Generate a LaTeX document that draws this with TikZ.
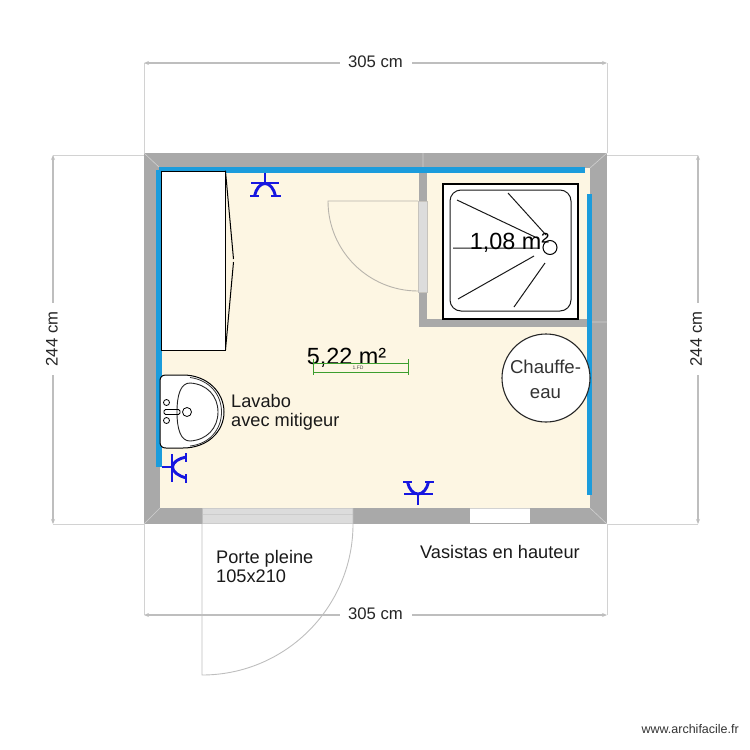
\documentclass[tikz,border=0pt]{standalone}
\usepackage{fontspec}
\setmainfont{Liberation Sans}
\usetikzlibrary{arrows.meta}
\definecolor{wallc}{HTML}{A9A9A9}
\definecolor{floorc}{HTML}{FDF6E3}
\definecolor{pipec}{HTML}{1B9CDC}
\definecolor{tapc}{HTML}{1616E0}
\definecolor{greenc}{HTML}{3C9E2E}
\definecolor{dimc}{HTML}{BEBEBE}
\definecolor{extc}{HTML}{D2D2D2}
\definecolor{doorc}{HTML}{B8B4AC}
\definecolor{leafc}{HTML}{DCDCDC}
\tikzset{
  dimline/.style={draw=dimc,line width=1.1pt,{Stealth[length=5pt,width=4pt]}-{Stealth[length=5pt,width=4pt]}},
  extline/.style={draw=extc,line width=0.9pt},
  dimtext/.style={fill=white,inner sep=0pt,minimum width=72pt,minimum height=16pt,font=\fontsize{16.7}{18}\selectfont,text=black!85},
  pipe/.style={draw=pipec,line width=6pt},
  tap/.style={draw=tapc,line width=2.9pt},
  black line/.style={draw=black,line width=1.2pt},
  showerline/.style={draw=black!90,line width=1pt},
  doorline/.style={draw=doorc,line width=0.9pt},
  label/.style={inner sep=0pt,font=\fontsize{18.2}{19}\selectfont,text=black!90,align=left,anchor=north west},
  area/.style={inner sep=0pt,font=\fontsize{23.4}{25}\selectfont,text=black},
  mitre/.style={draw=white!45!wallc,line width=0.6pt}
}
\begin{document}
\begin{tikzpicture}[x=1pt,y=-1pt]
\useasboundingbox (0,0) rectangle (750,750);
% walls and floor
\fill[wallc] (144,153) rectangle (607,524);
\fill[floorc] (160,168) rectangle (590,508);
\fill[wallc] (418.5,168) rectangle (427,327);
\fill[wallc] (418.5,319) rectangle (590,327);
\draw[mitre] (144,153) -- (160,168) (607,153) -- (590,168) (144,524) -- (160,508) (607,524) -- (590,508) (423,153) -- (423,168) (590,322) -- (607,322);
% pipes
\draw[pipe] (159,170) -- (585,170);
\draw[pipe] (159,170) -- (159,467);
\draw[pipe,line width=5.5pt] (589.5,194) -- (589.5,495);
% cabinet
\node[draw=black,line width=0.9pt,fill=white,inner sep=0pt,minimum width=64pt,minimum height=179pt] (cabinet) at (193,260.5) {};
\draw[black line,line width=1pt] (cabinet.north east) -- (233.5,259) (233.5,262) -- (cabinet.south east);
% doors
\draw[doorline] (418,201) -- (328,201) arc[start angle=180,end angle=90,radius=90];
\fill[leafc] (418,201) rectangle (427,292);
\draw[draw=doorc!80,line width=0.6pt] (418,201) rectangle (427,292);
\fill[leafc] (202,508) rectangle (353,524);
\draw[white!80!black,line width=0.9pt] (202,508.5) -- (353,508.5) (202,514) -- (353,514) (202,523.5) -- (353,523.5);
\draw[draw=dimc,line width=0.9pt] (202,524) -- (202,675) arc[start angle=90,end angle=0,radius=151] -- (353,508);
\draw[draw=dimc,line width=0.9pt] (202,508) -- (202,524);
% window
\fill[white] (470,509) rectangle (530,523);
\draw[extline] (470,508.5) -- (530,508.5);
% shower
\node[draw=black,line width=1.2pt,fill=white,inner sep=0pt,minimum width=135pt,minimum height=135pt] (showerbox) at (510.5,251.5) {};
\draw[showerline,rounded corners=11pt] (450,190) rectangle (571,311);
\node[circle,draw=black,line width=1pt,fill=white,inner sep=0pt,minimum size=14pt] (drain) at (550,247.5) {};
\draw[showerline] (457,200) -- (535,237) (508,193) -- (546,235) (453,248) -- (538,248) (458,299) -- (534,256) (514,307) -- (545,263);
\node[area] (areab) at (509.5,243) {1,08 m²};
% heater
\node[circle,draw=black!85,line width=1.1pt,fill=white,inner sep=0pt,minimum size=88pt] (heater) at (546,378) {};
\node[inner sep=0pt,align=center,font=\fontsize{18.6}{25}\selectfont,text=black!80] (heatertext) at (545.5,379.5) {Chauffe-\\eau};
% sink
\path[draw=black,line width=1pt,fill=white] (166,375) -- (183,375) .. controls (207,375) and (224,392) .. (224,412) .. controls (224,432) and (207,448) .. (183,448) -- (166,448) .. controls (162,448) and (160,446) .. (160,442) -- (160,381) .. controls (160,377) and (162,375) .. (166,375) -- cycle;
\draw[black!80,line width=0.8pt] (190,377.5) .. controls (209,380) and (221.5,394) .. (221.5,412) .. controls (221.5,430) and (209,444) .. (190,446);
\draw[black!85,line width=0.9pt] (177,412) .. controls (177,394) and (181,383) .. (190,383) .. controls (207,384) and (218,396) .. (218,412) .. controls (218,428) and (207,440) .. (190,441) .. controls (181,441) and (177,430) .. (177,412) -- cycle;
\node[circle,draw=black,line width=0.8pt,inner sep=0pt,minimum size=6pt] (holea) at (166.5,402.5) {};
\node[circle,draw=black,line width=0.8pt,inner sep=0pt,minimum size=6pt] (holeb) at (166.5,420.5) {};
\node[circle,draw=black,line width=0.8pt,fill=white,inner sep=0pt,minimum size=9pt] (plug) at (187,412) {};
\draw[black,line width=0.8pt,rounded corners=1.5pt] (164,409.5) rectangle (180,414.5);
% taps
\draw[tap] (265,173) -- (265,183) (251,183) -- (279,183) (250,196) -- (259,196) (271,196) -- (281,196);
\draw[tap] (254.5,196) .. controls (256,189) and (260,183.5) .. (265,183.5) .. controls (270,183.5) and (274,189) .. (275.5,196);
\draw[tap] (418,505) -- (418,494) (404,494) -- (433,494) (403,482) -- (412,482) (425,482) -- (434,482);
\draw[tap] (407.5,482) .. controls (409,489) and (413,494) .. (418,494) .. controls (423,494) and (427,489) .. (428.5,482);
\draw[tap] (162,467) -- (172,467) (172,454) -- (172,482) (186,453) -- (186,462) (186,474) -- (186,483);
\draw[tap] (186,457) .. controls (179,458.5) and (172.5,462) .. (172.5,467) .. controls (172.5,472) and (179,476) .. (186,478);
% area label and green measure
\node[area] (areaa) at (346.5,358) {5,22 m²};
\coordinate (ga) at (313,372);
\coordinate (gb) at (408,372);
\coordinate (gc) at (313,363);
\coordinate (gd) at (408,363);
\draw[greenc,line width=0.9pt] (ga) -- (gb) (gc) -- (gd) (313,359) -- (313,375) (408,359) -- (408,375);
\node[inner sep=0pt,font=\fontsize{5}{6}\selectfont,text=black!70] (gtext) at (358,367.6) {1.FD};
% dimensions
\coordinate (tl) at (144,63); \coordinate (tr) at (607,63);
\coordinate (bl) at (144,615); \coordinate (br) at (607,615);
\coordinate (lt) at (53,155); \coordinate (lb) at (53,524);
\coordinate (rt) at (698,155); \coordinate (rb) at (698,524);
\draw[extline] (tl) -- (144,153) (tr) -- (607,153) (bl) -- (144,524) (br) -- (607,524);
\draw[extline] (lt) -- (144,155) (lb) -- (144,524) (rt) -- (607,155) (rb) -- (607,524);
\draw[dimline] (tl) -- (tr);
\draw[dimline] (bl) -- (br);
\draw[dimline] (lt) -- (lb);
\draw[dimline] (rt) -- (rb);
\node[dimtext] (dt) at (375.5,62) {305 cm};
\node[dimtext] (db) at (375.5,614) {305 cm};
\node[dimtext,rotate=90] (dl) at (52,339) {244 cm};
\node[dimtext,rotate=90] (dr) at (696,339) {244 cm};
% labels
\node[label] (lavabo) at (231,394) {Lavabo\\avec mitigeur};
\node[label] (porte) at (216,550) {Porte pleine\\105x210};
\node[label] (vasistas) at (420,545) {Vasistas en hauteur};
\node[inner sep=0pt,font=\fontsize{12.5}{14}\selectfont,text=black!80,anchor=east] (site) at (739,729) {www.archifacile.fr};
\end{tikzpicture}
\end{document}
